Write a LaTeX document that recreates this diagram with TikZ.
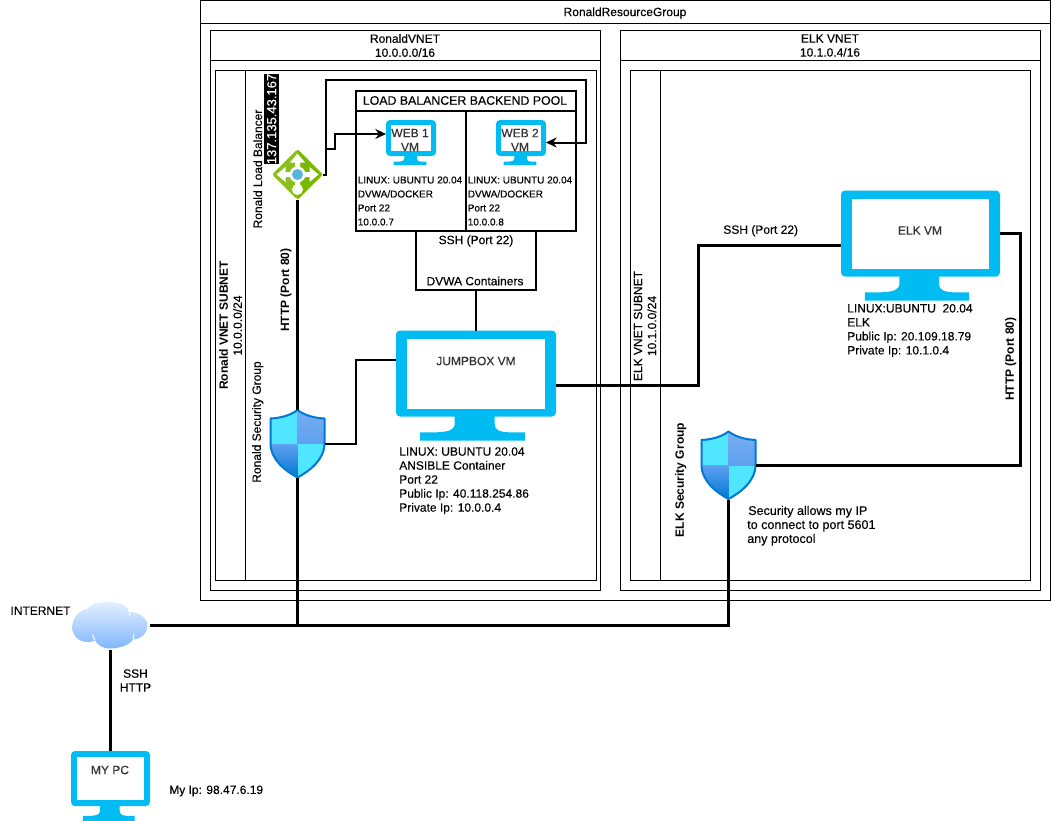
\documentclass[tikz,border=0pt]{standalone}
\usepackage{fontspec}
\setmainfont{Liberation Sans}[UprightFeatures={FakeBold=0.25}]
\usetikzlibrary{arrows.meta}
\definecolor{vmblue}{HTML}{00BCF2}
\definecolor{shieldedge}{HTML}{0078D4}
\definecolor{shieldlight}{HTML}{50E6FF}
\definecolor{shieldmid}{HTML}{5EA0EF}
\definecolor{lbgreen}{HTML}{8ABF1E}
\definecolor{lbdark}{HTML}{7AB800}
\definecolor{lbdot}{HTML}{59B4D9}
\definecolor{labelgrey}{HTML}{333333}
\definecolor{cloudtop}{HTML}{E4EFFF}
\definecolor{cloudbottom}{HTML}{80B6FA}
\tikzset{
  lbl/.style={font=\fontsize{9}{10.5}\selectfont,inner sep=0pt,align=left},
  lblmid/.style={lbl,align=center},
  lblsmall/.style={font=\fontsize{7.5}{10.5}\selectfont,inner sep=0pt,align=left,anchor=west},
  lblbold/.style={lbl,font=\fontsize{9}{10.5}\selectfont\bfseries,align=center},
  vmlbl/.style={lblmid,text=labelgrey},
  box/.style={draw,line width=0.75pt,inner sep=0pt,outer sep=0pt,anchor=north west},
  boxbold/.style={box,line width=1.5pt},
  icon/.style={inner sep=0pt,outer sep=0pt},
  wire/.style={line width=1.5pt},
  wirebold/.style={line width=2.25pt},
  tip/.style={-{Stealth[length=8pt,width=7.5pt]}}
}
% name, x1, y1, x2, y2, style
\newcommand{\boxat}[6]{
  \node[#6,minimum width={(#4-#2)*0.75pt},minimum height={(#5-#3)*0.75pt}] (#1) at (#2,#3) {};
}
% name, left, top, width, screen height, total height, border x, border y
\newcommand{\vmicon}[8]{
  \node[icon,anchor=north west,minimum width={#4*0.75pt},minimum height={#6*0.75pt}] (#1) at (#2,#3) {};
  \begin{scope}[shift={(#2,#3)}]
    \fill[vmblue,rounded corners=3pt] (0,0) rectangle (#4,#5);
    \fill[white] (#7,#8) rectangle ({#4-#7},{#5-#8});
    \fill[vmblue] ({.367*#4},{#5-1}) -- ({.367*#4},{#5+.3*(#6-#5)})
      .. controls ({.367*#4},{#6-.09*#6}) and ({.32*#4},{#6-.08*#6}) .. ({.26*#4},{#6-.075*#6})
      -- ({.15*#4},{#6-.075*#6}) -- ({.15*#4},#6) -- ({.806*#4},#6) -- ({.806*#4},{#6-.075*#6})
      -- ({.70*#4},{#6-.075*#6})
      .. controls ({.65*#4},{#6-.08*#6}) and ({.617*#4},{#6-.09*#6}) .. ({.617*#4},{#5+.3*(#6-#5)})
      -- ({.617*#4},{#5-1}) -- cycle;
  \end{scope}
}
\newcommand{\shieldpath}{(0,0) .. controls (-8,6) and (-18,8) .. (-27,8.5) -- (-27,33)
  .. controls (-27,50) and (-12,61) .. (0,67.5) .. controls (12,61) and (27,50) .. (27,33)
  -- (27,8.5) .. controls (18,8) and (8,6) .. (0,0) -- cycle}
% name, centre x, top
\newcommand{\shieldicon}[3]{
  \node[icon,anchor=north,minimum width=41.25pt,minimum height=51pt] (#1) at (#2,#3) {};
  \begin{scope}[shift={(#2,#3)}]
    \begin{scope}
      \clip \shieldpath;
      \fill[shieldlight] (-28,0) rectangle (0,34);
      \shade[top color=shieldmid!85!white,bottom color=shieldmid] (0,0) rectangle (28,34);
      \shade[top color=shieldmid,bottom color=shieldedge] (-28,34) rectangle (0,68);
      \fill[shieldlight] (0,34) rectangle (28,68);
    \end{scope}
    \draw[shieldedge,line width=1.5pt,line join=round] \shieldpath;
  \end{scope}
}
\begin{document}
\begin{tikzpicture}[x=0.75pt,y=-0.75pt]
  \useasboundingbox (0,0) rectangle (1051,821);
  % resource group and vnets
  \boxat{rg}{200.5}{0.5}{1050.5}{600.5}{box}
  \boxat{rghead}{200.5}{0.5}{1050.5}{23.5}{box}
  \boxat{vnet1}{210.5}{30.5}{600.5}{590.5}{box}
  \boxat{vnet1head}{210.5}{30.5}{600.5}{60.5}{box}
  \boxat{vnet2}{620.5}{30.5}{1040.5}{590.5}{box}
  \boxat{vnet2head}{620.5}{30.5}{1040.5}{60.5}{box}
  \boxat{sub1}{215.5}{70.5}{596.5}{580.5}{box}
  \boxat{sub1head}{215.5}{70.5}{245.5}{580.5}{box}
  \boxat{sub2}{630.5}{70.5}{1030.5}{580.5}{box}
  \boxat{sub2head}{630.5}{70.5}{660.5}{580.5}{box}
  \node[lblmid] (rgtxt) at (625,13) {RonaldResourceGroup};
  \node[lblmid] (vnet1txt) at (405,45.5) {RonaldVNET\\10.0.0.0/16};
  \node[lblmid] (vnet2txt) at (830,45.5) {ELK VNET\\10.1.0.4/16};
  \node[lblmid,rotate=90] (sub1txt) at (230.5,325.5) {\textbf{Ronald VNET SUBNET}\\10.0.0.0/24};
  \node[lblmid,rotate=90] (sub2txt) at (645,326) {ELK VNET SUBNET\\10.1.0.0/24};
  % backend pool
  \boxat{poolhead}{355.5}{90.5}{576}{110.5}{boxbold}
  \boxat{poolleft}{355.5}{110.5}{465.5}{231}{boxbold}
  \boxat{poolright}{465.5}{110.5}{576}{231}{boxbold}
  \boxat{dvwa}{415.5}{231}{535.5}{290}{boxbold}
  \node[lblmid,font=\fontsize{9.25}{10.5}\selectfont] (pooltxt) at (465,100.5) {LOAD BALANCER BACKEND POOL};
  \node[lblmid] (dvwatxt1) at (476,241) {SSH (Port 22)};
  \node[lblmid] (dvwatxt2) at (475,281) {DVWA Containers};
  % icons
  \vmicon{web1}{386}{120}{50}{36}{45}{5}{5}
  \vmicon{web2}{496}{120}{50}{36}{45}{5}{5}
  \vmicon{jump}{396}{330.5}{160}{86}{110}{11}{8}
  \vmicon{elk}{841}{190.5}{159}{86}{110}{11}{8}
  \vmicon{pc}{71}{751}{79}{55}{70}{6}{6}
  \shieldicon{sg1}{297.5}{410}
  \shieldicon{sg2}{728.5}{431.5}
  % load balancer
  \node[icon,minimum size=38.25pt] (lb) at (297.5,174.5) {};
  \begin{scope}[shift={(297.5,174.5)}]
    \fill[lbgreen,rounded corners=2pt] (-25.5,0) -- (0,-25.5) -- (25.5,0) -- (0,25.5) -- cycle;
    \fill[lbdark] (0,-24.5) -- (24.5,0) -- (0,24.5) -- cycle;
    \fill[white] (0,-21) -- (-7.5,-12) -- (-2.5,-12) -- (-2.5,12) -- (2.5,12) -- (2.5,-12) -- (7.5,-12) -- cycle;
    \fill[white] (-21,0) -- (-12,-7.5) -- (-12,-2.5) -- (12,-2.5) -- (12,-7.5) -- (21,0) -- (12,7.5) -- (12,2.5) -- (-12,2.5) -- (-12,7.5) -- cycle;
    \fill[white] (0,0) circle (8);
    \fill[white] (0,15) circle (5.5);
    \fill[lbdot] (0,0) circle (5.5);
  \end{scope}
  % internet
  \node[icon,minimum width=59.25pt,minimum height=36.75pt] (cloud) at (110.5,625.5) {};
  \begin{scope}[shift={(110,625.5)}]
    \shade[top color=cloudtop,bottom color=cloudbottom]
      (-37.7,3) .. controls (-38,-8) and (-31,-15) .. (-22,-17)
      .. controls (-20,-22) and (-8,-23.5) .. (-1,-23.5)
      .. controls (10,-23.5) and (18,-20) .. (19,-13)
      .. controls (24,-15) and (38,-9) .. (37.5,0)
      .. controls (37,9) and (30,14) .. (23,14)
      .. controls (20,20) and (8,23) .. (0,23)
      .. controls (-7,23) and (-12,20) .. (-15,15)
      .. controls (-20,18) and (-36,18) .. (-37.7,3) -- cycle;
    \draw[white,line width=0.75pt] (-15,15) .. controls (-16,13) and (-17,11) .. (-17.5,9);
    \draw[white,line width=0.75pt] (23,14) .. controls (24,12) and (24,10) .. (24,8);
    \draw[white,line width=0.75pt] (19,-13) .. controls (20,-11) and (20,-10) .. (20,-9);
  \end{scope}
  % connectors
  \draw[wirebold] (lb.south) -- (sg1.north);
  \draw[wirebold] (sg1.south) -- (sg1.south |- cloud.east);
  \draw[wirebold] (cloud.east) -| (sg2.south);
  \draw[wirebold] (cloud.south) -- (cloud.south |- pc.north);
  \draw[wirebold] (jump.east) -- ++(142.5,0) |- (elk.west);
  \draw[wirebold] (elk.east) ++(0,-12) -- ++(20.5,0) |- (sg2.east);
  \draw[wire] (sg1.east) -- ++(30.5,0) |- ([yshift=19pt]jump.west);
  \draw[wire] (jump.north) -- (jump.north |- dvwa.south);
  \coordinate (lbbend) at (586,80);
  \coordinate (lbfork) at (325,149);
  \draw[wire,tip] (lb.east) -- ++(3,0) |- (lbbend) |- (web2.east);
  \draw[wire,tip] (lbfork) -- ++(10,0) |- ([yshift=6.4pt]web1.west);
  % labels
  \node[vmlbl] (web1txt) at (410,140) {WEB 1\\VM};
  \node[vmlbl] (web2txt) at (520,140) {WEB 2\\VM};
  \node[vmlbl] (jumptxt) at (476,361) {JUMPBOX VM};
  \node[vmlbl] (elktxt) at (920,230.5) {ELK VM};
  \node[vmlbl] (pctxt) at (110,770) {MY PC};
  \node[lblsmall] (web1info) at (357.5,201) {LINUX: UBUNTU 20.04\\DVWA/DOCKER\\Port 22\\10.0.0.7};
  \node[lblsmall] (web2info) at (467.5,201) {LINUX: UBUNTU 20.04\\DVWA/DOCKER\\Port 22\\10.0.0.8};
  \node[lbl,anchor=west] (jumpinfo) at (399,480.7) {LINUX: UBUNTU 20.04\\ANSIBLE Container\\Port 22\\Public Ip: 40.118.254.86\\Private Ip: 10.0.0.4};
  \node[lbl,anchor=west] (elkinfo) at (847,330.5) {LINUX:UBUNTU\ \ 20.04\\ELK\\Public Ip: 20.109.18.79\\Private Ip: 10.1.0.4};
  \node[lbl,anchor=west,font=\fontsize{9.4}{10.5}\selectfont] (sginfo) at (747,525.7) {\hspace{0.75pt}Security allows my IP\\to connect to port 5601\\any protocol};
  \node[lblmid] (sshtxt) at (760.7,230.7) {SSH (Port 22)};
  \node[lblmid] (cloudtxt) at (40.5,610.7) {INTERNET};
  \node[lblmid] (pclinks) at (135.5,680.5) {SSH\\HTTP};
  \node[lbl,anchor=west] (myip) at (169,791) {My Ip: 98.47.6.19};
  \node[lblmid,rotate=90] (lbtxt) at (257.7,169) {Ronald Load Balancer};
  \node[lblmid,rotate=90,fill=black,text=white,font=\fontsize{9.75}{10.5}\selectfont,minimum height=11pt,inner xsep=0pt] (lbip) at (271.7,119) {137.135.43.167};
  \node[lblmid,rotate=90] (sg1txt) at (257.7,422) {Ronald Security Group};
  \node[lblbold,rotate=90] (http1) at (286,290) {HTTP (Port 80)};
  \node[lblbold,rotate=90] (http2) at (1010.7,359) {HTTP (Port 80)};
  \node[lblbold,rotate=90] (sg2txt) at (680.7,480) {ELK Security Group};
\end{tikzpicture}
\end{document}
